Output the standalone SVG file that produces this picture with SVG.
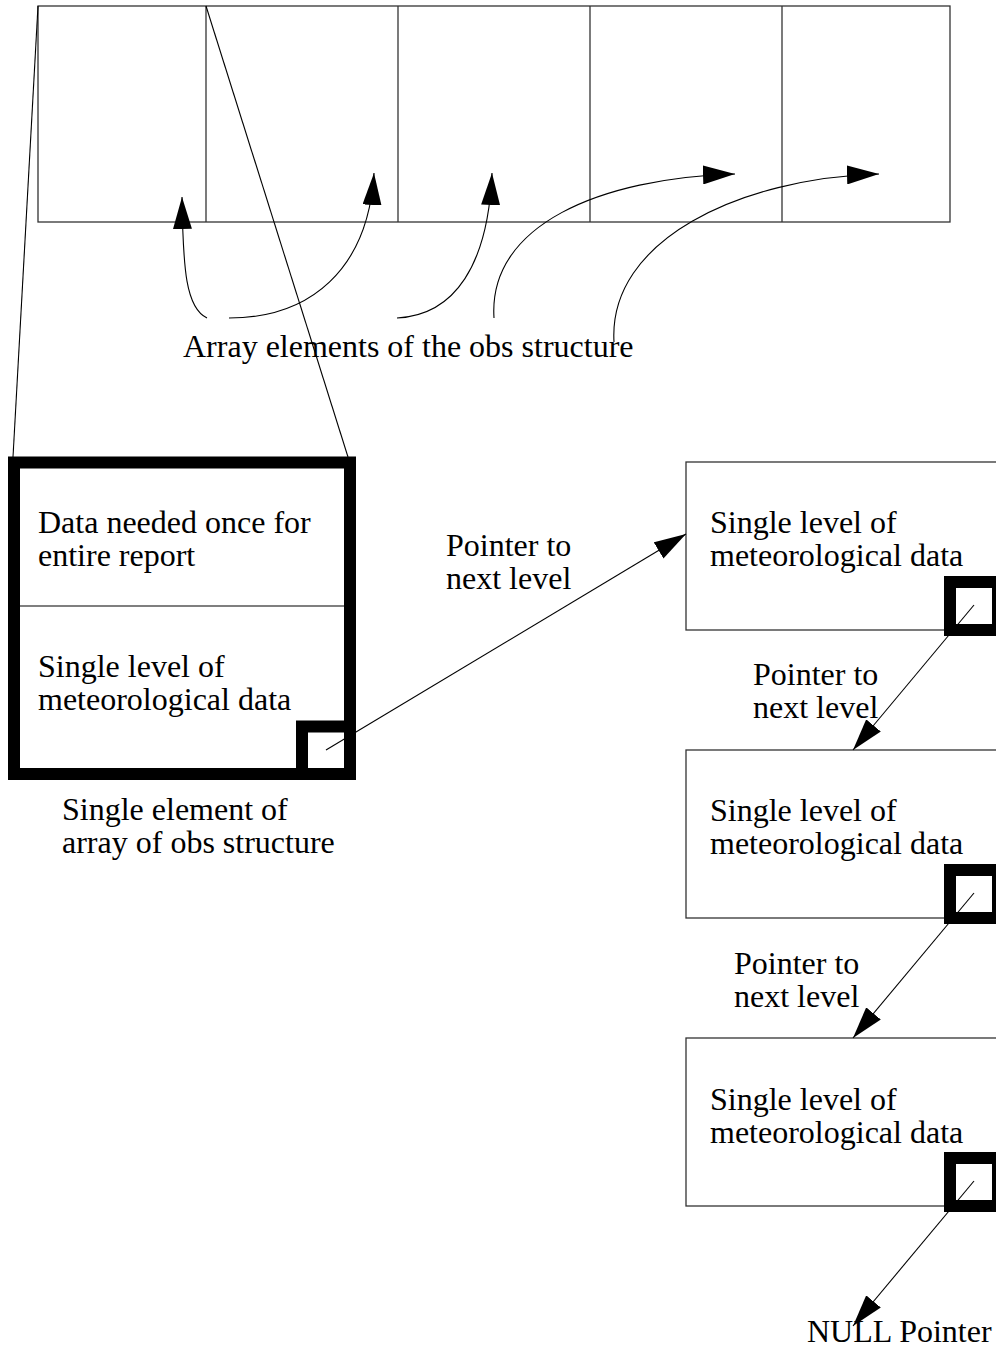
<svg xmlns="http://www.w3.org/2000/svg" width="996" height="1354" viewBox="0 0 996 1354">
<style>
text{font-family:"Liberation Serif","Times New Roman",serif;font-size:32px;fill:#000}
.box{fill:none;stroke:#333;stroke-width:1.3}
.thick{fill:none;stroke:#000;stroke-width:12}
.ln{fill:none;stroke:#000;stroke-width:1.1}
.arr{fill:none;stroke:#000;stroke-width:1.1;marker-end:url(#ah)}
</style>
<defs>
<marker id="ah" viewBox="0 0 32 19" refX="32" refY="9.5" markerWidth="32" markerHeight="19" markerUnits="userSpaceOnUse" orient="auto">
<path d="M0,0 L32,9.5 L0,19 z" fill="#000"/>
</marker>
</defs>
<rect width="996" height="1354" fill="#fff"/>
<g id="array">
<rect class="box" x="38" y="6" width="912" height="216"/>
<line class="box" x1="206" y1="6" x2="206" y2="222"/>
<line class="box" x1="398" y1="6" x2="398" y2="222"/>
<line class="box" x1="590" y1="6" x2="590" y2="222"/>
<line class="box" x1="782" y1="6" x2="782" y2="222"/>
</g>
<g id="array-label">
<text x="183" y="357">Array elements of the obs structure</text>
</g>
<g id="element">
<rect fill="#fff" class="thick" x="14" y="462.5" width="336" height="311.5"/>
<line class="ln" x1="20" y1="606" x2="344" y2="606"/>
<text x="38" y="532.5">Data needed once for</text>
<text x="38" y="565.5">entire report</text>
<text x="38" y="676.5">Single level of</text>
<text x="38" y="709.5">meteorological data</text>
<rect class="thick" x="302" y="726.5" width="48" height="47.5"/>
</g>
<g id="element-label">
<text x="62" y="819.5">Single element of</text>
<text x="62" y="852.5">array of obs structure</text>
</g>
<g id="level1">
<rect class="box" x="686" y="462" width="312" height="168"/>
<text x="710" y="532.5">Single level of</text>
<text x="710" y="565.5">meteorological data</text>
<rect class="thick" x="950" y="582" width="48" height="48"/>
</g>
<g id="level2">
<rect class="box" x="686" y="750" width="312" height="168"/>
<text x="710" y="820.5">Single level of</text>
<text x="710" y="853.5">meteorological data</text>
<rect class="thick" x="950" y="870" width="48" height="48"/>
</g>
<g id="level3">
<rect class="box" x="686" y="1038" width="312" height="168"/>
<text x="710" y="1109.5">Single level of</text>
<text x="710" y="1142.5">meteorological data</text>
<rect class="thick" x="950" y="1158" width="48" height="48"/>
</g>
<g id="labels">
<text x="446" y="555.5">Pointer to</text>
<text x="446" y="588.5">next level</text>
<text x="753" y="685">Pointer to</text>
<text x="753" y="718">next level</text>
<text x="734" y="974">Pointer to</text>
<text x="734" y="1007">next level</text>
<text x="807" y="1342">NULL Pointer</text>
</g>
<g id="connectors">
<line class="ln" x1="38" y1="6" x2="13" y2="457"/>
<line class="ln" x1="206" y1="6" x2="348" y2="457"/>
<path class="arr" d="M207,318 C186,308 183,270 182,197"/>
<path class="arr" d="M229,318 C310,318 368,270 374,173"/>
<path class="arr" d="M397,318 C455,315 488,265 492,173"/>
<path class="arr" d="M494,318 C488,225 600,178 735,174"/>
<path class="arr" d="M614,342 C608,240 740,178 879,174"/>
<line class="arr" x1="326" y1="750" x2="686" y2="534"/>
<line class="arr" x1="974" y1="605" x2="853" y2="750"/>
<line class="arr" x1="974" y1="893" x2="853" y2="1038"/>
<line class="arr" x1="974" y1="1181" x2="853" y2="1326"/>
</g>
</svg>
